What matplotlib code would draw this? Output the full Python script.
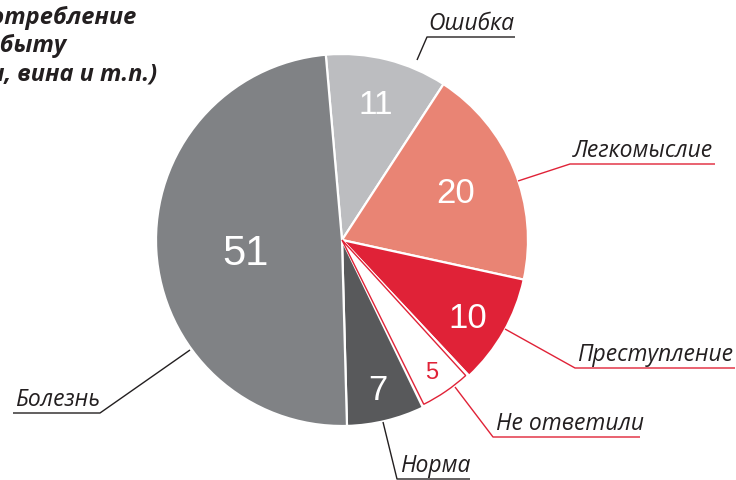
import numpy as np
import matplotlib.pyplot as plt
from matplotlib.patches import Wedge

# data (clockwise from the top)
labels = ['Ошибка', 'Легкомыслие', 'Преступление', 'Не ответили', 'Норма', 'Болезнь']
values = [11, 20, 10, 5, 7, 51]
colors = ['#bcbdc0', '#e98474', '#e02237', '#ffffff', '#58595b', '#808285']
num_colors = ['white', 'white', 'white', '#e02237', 'white', 'white']
num_sizes = [24, 25, 25, 17, 25, 30]
num_dist = [0.75, 0.66, 0.78, 0.85, 0.82, 0.52]
num_shift = [1, 0, 7, 3, 2, 8]  # extra pixels downward

title_lines = ['Потребление', 'в быту', '(водки, вина и т.п.)']

W, H = 736, 480
RED = '#e02237'
DARK = '#231f20'
LABEL_FONT = ['Open Sans', 'DejaVu Sans']
NUM_FONT = ['Liberation Sans Narrow', 'Liberation Sans', 'DejaVu Sans']


def py(y):
    # pixel row -> data y
    return H - y


fig = plt.figure(figsize=(W / 100, H / 100), dpi=100)
ax = fig.add_axes([0, 0, 1, 1])

cx, cy, R = 342, py(240), 186
wedges, _ = ax.pie(values, colors=colors, startangle=95, counterclock=False,
                   center=(cx, cy), radius=R,
                   wedgeprops=dict(edgecolor='white', linewidth=1.6))

# red outline on the white slice
w = wedges[3]
ax.add_patch(Wedge((w.center[0], w.center[1]), w.r - 2.5, w.theta1 + 0.7, w.theta2 - 0.7,
                   facecolor='white', edgecolor=RED, linewidth=1.0, zorder=3))

for wd, v, c, s, d, sh in zip(wedges, values, num_colors, num_sizes, num_dist, num_shift):
    a = np.deg2rad((wd.theta1 + wd.theta2) / 2)
    ax.text(cx + d * R * np.cos(a), cy + d * R * np.sin(a) - sh, str(v),
            ha='center', va='center', color=c, fontsize=s,
            family=NUM_FONT, zorder=4)

# leader lines (pixel layout) and label text
leaders = [
    [(417, 60), (427, 37), (515, 37)],
    [(518, 181), (570, 164), (715, 164)],
    [(505, 329), (575, 368), (735, 368)],
    [(455, 387), (493, 437), (640, 437)],
    [(383, 422), (397, 479), (470, 479)],
    [(190, 350), (100, 413), (13, 413)],
]
line_colors = [DARK, RED, RED, RED, DARK, DARK]
text_pos = [(428, 30), (573, 157), (577, 361), (496, 430), (400, 472), (15, 406)]

for lab, pts, lc, (tx, ty) in zip(labels, leaders, line_colors, text_pos):
    xs = [p[0] for p in pts]
    ys = [py(p[1]) for p in pts]
    ax.plot(xs, ys, color=lc, lw=1.0, solid_capstyle='butt', zorder=2)
    ax.text(tx, py(ty), lab, ha='left', va='baseline', color=DARK,
            fontsize=16.5, style='italic', family=LABEL_FONT)

# heading at top left, cut by the left edge as in the source
title_right = [137, 66, 157]
title_base = [24, 52, 80]
for t, xr, yb in zip(title_lines, title_right, title_base):
    ax.text(xr, py(yb), t, ha='right', va='baseline', color=DARK,
            fontsize=17, style='italic', fontweight='bold', family=LABEL_FONT)

ax.set_xlim(0, W)
ax.set_ylim(0, H)
ax.axis('off')

fig.savefig('out.png', dpi=100)
